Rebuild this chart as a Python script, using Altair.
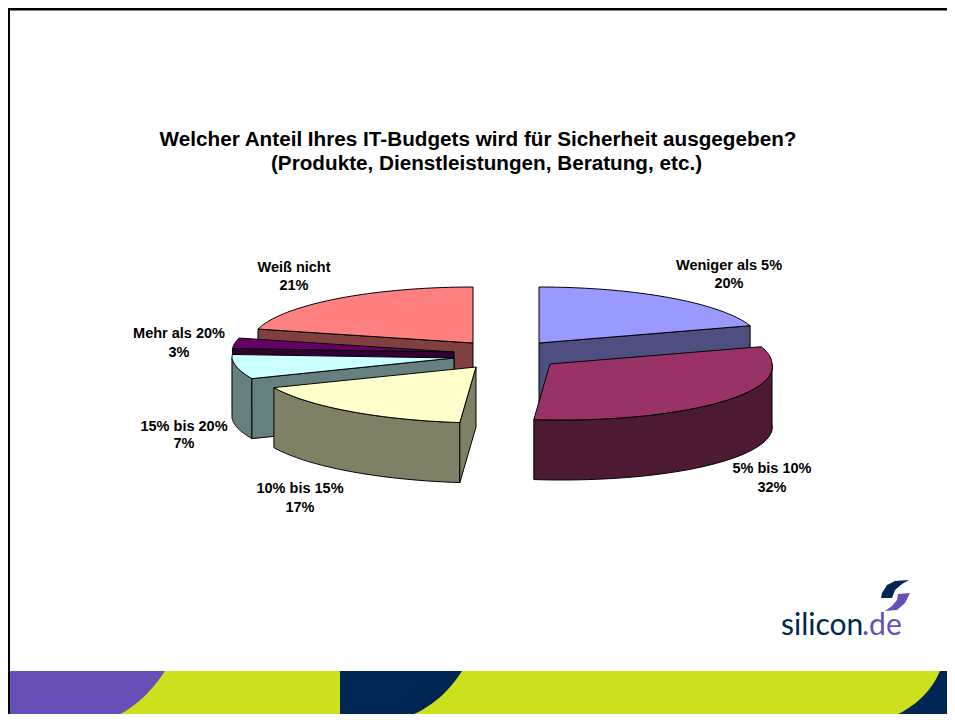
import math
import altair as alt

# --- chart values ---
labels = ["Weniger als 5%", "5% bis 10%", "10% bis 15%", "15% bis 20%", "Mehr als 20%", "Weiß nicht"]
shares = [20, 32, 17, 7, 3, 21]
top_colors = ["#9999FF", "#993366", "#FFFFCC", "#CCFFFF", "#660066", "#FF8080"]
side_colors = ["#4E4E80", "#4D1A33", "#808066", "#668080", "#330033", "#804040"]
title_lines = ["Welcher Anteil Ihres IT-Budgets wird für Sicherheit ausgegeben?",
               "(Produkte, Dienstleistungen, Beratung, etc.)"]

# --- layout of the exploded pie (page pixels) ---
W, H = 939, 706
OFF = 8
RX, RY, DEPTH, SHEAR = 222, 56, 60, 0.21
apex = [(539, 343), (550, 364), (476, 367), (454, 358), (454, 352), (473, 343)]
cut_edge = ["end", None, "start", "start", "start", "start"]
draw_order = [5, 4, 3, 2, 0, 1]
label_pos = [(729, 266, 284), (772, 469, 488), (300, 489, 508),
             (184, 427, 444), (179, 334, 353), (294, 268, 286)]


def rim(i, deg):
    t = math.radians(deg)
    dx, dy = RX * math.sin(t), -RY * math.cos(t)
    if dy > 0:
        dx += SHEAR * dy
    return (apex[i][0] + dx, apex[i][1] + dy)


def feature(points, color):
    ring = [list(p) for p in points] + [list(points[0])]
    return {"type": "Feature", "properties": {"color": color},
            "geometry": {"type": "Polygon", "coordinates": [ring]}}


def down(p):
    return (p[0], p[1] + DEPTH)


def arc_points(i, a, b, n=48):
    return [rim(i, a + (b - a) * k / n) for k in range(n + 1)]


bounds = []
acc = 0
for s in shares:
    bounds.append((acc * 3.6, (acc + s) * 3.6))
    acc += s

pie_features = []
for i in draw_order:
    a, b = bounds[i]
    # curved outer wall, front-facing half only
    fa, fb = max(a, 90), min(b, 270)
    if fa < fb:
        arc = arc_points(i, fa, fb)
        pie_features.append(feature(arc + [down(p) for p in reversed(arc)], side_colors[i]))
    # flat cut wall facing the viewer
    if cut_edge[i]:
        e = rim(i, b if cut_edge[i] == "end" else a)
        pie_features.append(feature([apex[i], e, down(e), down(apex[i])], side_colors[i]))
    # top face
    pie_features.append(feature([apex[i]] + arc_points(i, a, b), top_colors[i]))


def quad(p0, c, p1, n=24):
    out = []
    for k in range(n + 1):
        t = k / n
        out.append(((1 - t) ** 2 * p0[0] + 2 * t * (1 - t) * c[0] + t ** 2 * p1[0],
                    (1 - t) ** 2 * p0[1] + 2 * t * (1 - t) * c[1] + t ** 2 * p1[1]))
    return out


PURPLE, LIME, NAVY = "#6650B8", "#CCE01E", "#002654"
BAND_TOP, BOTTOM, RIGHT = 671, 730, 960
decor = [
    feature([(8, 8), (RIGHT, 8), (RIGHT, 10.5), (10, 10.5), (10, BOTTOM), (8, BOTTOM)], "#000000"),
    feature([(10, BAND_TOP), (RIGHT, BAND_TOP), (RIGHT, BOTTOM), (10, BOTTOM)], LIME),
    feature([(10, BAND_TOP), (165, BAND_TOP)] + quad((165, BAND_TOP), (138, 712), (100, 722)) + [(100, BOTTOM), (10, BOTTOM)], PURPLE),
    feature([(340, BAND_TOP), (462, BAND_TOP)] + quad((462, BAND_TOP), (436, 712), (390, 722)) + [(390, BOTTOM), (340, BOTTOM)], NAVY),
    feature([(940, BAND_TOP), (RIGHT, BAND_TOP), (RIGHT, BOTTOM), (878, BOTTOM), (878, 722)] + quad((878, 722), (924, 708), (940, BAND_TOP)), NAVY),
    feature([(909, 580), (895, 581), (887, 585), (882, 593), (881, 598), (892, 598), (895, 590), (902, 584)], NAVY),
    feature([(910, 593), (898, 594), (897, 600), (892, 606), (885, 611), (897, 610), (905, 603)], PURPLE),
]


def shapes(features, **kw):
    return alt.Chart(alt.Data(values=features)).mark_geoshape(**kw).encode(
        fill=alt.Fill("properties.color:N", scale=None)
    ).project(type="identity", scale=1, translate=[-OFF, -OFF])


def text(line, x, y, size, color="#000000", font="Liberation Sans", bold=True, align="center", **kw):
    return alt.Chart(alt.Data(values=[{"t": line}])).mark_text(
        font=font, fontSize=size, fontWeight="bold" if bold else "normal",
        color=color, align=align, baseline="middle", **kw
    ).encode(x=alt.value(x - OFF), y=alt.value(y - OFF), text="t:N")


layers = [shapes(decor, strokeWidth=0),
          shapes(pie_features, stroke="#000000", strokeWidth=1, strokeJoin="round")]
layers += [text(title_lines[0], 478, 140, 20.7), text(title_lines[1], 486.5, 164, 20.7)]
for name, share, (x, y1, y2) in zip(labels, shares, label_pos):
    layers += [text(name, x, y1, 14.5), text(f"{share}%", x, y2, 14.5)]
layers += [text("silicon", 781, 626, 30, color=NAVY, font="Lato", bold=False, align="left"),
           text(".de", 862, 626, 30, color=PURPLE, font="Lato", bold=False, align="left")]

chart = alt.layer(*layers).properties(
    width=W, height=H, padding=0, autosize=alt.AutoSizeParams(type="none"),
    background="#FFFFFF"
).configure_view(stroke=None)

chart.save("out.html", embed_options={"renderer": "svg", "actions": False})
